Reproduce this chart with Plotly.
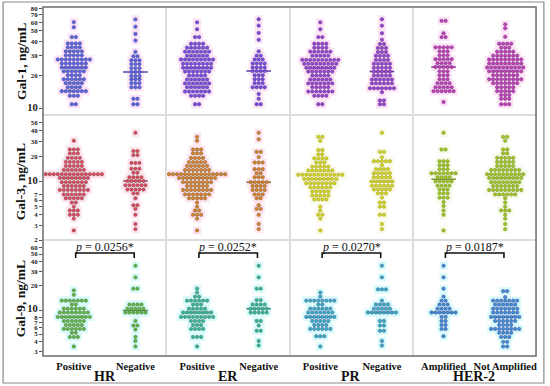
import numpy as np
import plotly.graph_objects as go
from plotly.subplots import make_subplots

# ---------------- data (levels in ng/mL and number of patients at each level) ----------------
GROUPS = ["HR", "ER", "PR", "HER-2"]
CATS = [["Positive", "Negative"], ["Positive", "Negative"], ["Positive", "Negative"], ["Amplified", "Not Amplified"]]
MARKERS = ["Gal-1, ng/mL", "Gal-3, ng/mL", "Gal-9, ng/mL"]
P_VALUES = ["0.0256", "0.0252", "0.0270", "0.0187"]

# Gal-1
G1_HR_POS_V = [60, 54, 44, 38.6, 35.6, 32.8, 30.2, 27.7, 25.5, 23.5, 21.7, 20, 18.4, 17, 15.6, 14.4, 13.1, 11]
G1_HR_POS_N = [1, 1, 2, 4, 4, 5, 5, 9, 7, 7, 6, 4, 6, 5, 4, 7, 3, 2]
G1_HR_NEG_V = [63.5, 54.6, 47, 41, 32.4, 29.6, 27.3, 25.2, 23.2, 21.4, 19.7, 18.4, 17, 15.6, 12.3, 11]
G1_HR_NEG_N = [1, 1, 1, 1, 1, 2, 3, 3, 3, 3, 3, 3, 3, 3, 2, 2]
G1_ER_POS_V = [59.7, 51.8, 44, 38.4, 35.4, 32.6, 30, 27.7, 25.4, 23.4, 21.6, 19.9, 18.3, 16.9, 15.6, 14.3, 13.1, 11]
G1_ER_POS_N = [1, 1, 2, 4, 6, 7, 6, 9, 8, 8, 7, 5, 6, 7, 6, 7, 4, 2]
G1_ER_NEG_V = [63.7, 55.8, 48, 41.7, 32.8, 30, 27.7, 25.5, 23.5, 21.8, 20, 18.4, 17, 15.6, 13.6, 12.3, 11]
G1_ER_NEG_N = [1, 1, 1, 1, 1, 2, 3, 4, 4, 4, 3, 3, 3, 4, 1, 1, 2]
G1_PR_POS_V = [59.7, 51.8, 44, 38.4, 35.4, 32.6, 30, 27.5, 25.4, 23.4, 21.6, 19.9, 18.3, 16.9, 15.6, 14.3, 13.1, 11]
G1_PR_POS_N = [1, 1, 2, 4, 4, 6, 5, 10, 9, 8, 7, 5, 6, 7, 5, 7, 4, 2]
G1_PR_NEG_V = [63.7, 55.8, 47.7, 41.7, 38.2, 35.2, 32.4, 29.9, 27.5, 25.4, 23.4, 21.6, 19.9, 18.3, 16.9, 15.3, 14.1, 11.9, 11]
G1_PR_NEG_N = [1, 1, 1, 1, 2, 3, 3, 4, 4, 5, 5, 5, 5, 6, 6, 7, 1, 2, 2]
G1_H2_AMP_V = [61.6, 47.7, 44, 35.6, 32.8, 30.2, 27.9, 25.7, 23.7, 21.7, 20, 18.4, 17, 15.6, 14.4, 11.5]
G1_H2_AMP_N = [2, 1, 2, 5, 3, 3, 5, 4, 5, 3, 3, 3, 4, 5, 6, 1]
G1_H2_NA_V = [57.3, 52.8, 44.3, 38.4, 35.4, 32.6, 30, 27.7, 25.5, 23.5, 21.7, 20, 18.4, 17, 15.6, 14.4, 13.3, 12.3, 11]
G1_H2_NA_N = [1, 1, 1, 4, 3, 5, 7, 9, 9, 10, 9, 7, 9, 7, 5, 5, 3, 3, 3]

# Gal-3
G3_HR_POS_V = [30.6, 24.1, 21.6, 19.1, 17.1, 15.3, 13.7, 12.2, 11, 9.8, 8.8, 7.9, 7.0, 6.3, 5.6, 5.0, 4.5, 4.0, 3.6, 2.6]
G3_HR_POS_N = [1, 3, 3, 4, 5, 5, 6, 15, 8, 7, 6, 8, 6, 5, 2, 1, 3, 3, 1, 1]
G3_HR_NEG_V = [38, 23, 20.6, 16.6, 14.2, 12.7, 11.2, 10.1, 9.0, 8.0, 7.2, 6.3, 5.2, 4.7, 4.0, 3.1, 2.7]
G3_HR_NEG_N = [1, 2, 2, 3, 3, 2, 4, 5, 6, 5, 2, 1, 2, 1, 1, 1, 1]
G3_ER_POS_V = [34, 30.6, 24, 21.6, 19, 17, 15.3, 13.7, 12.2, 11, 9.8, 8.8, 7.9, 7.0, 6.3, 5.6, 5.0, 4.5, 4.0, 3.6, 2.6]
G3_ER_POS_N = [1, 1, 3, 3, 4, 5, 6, 7, 15, 10, 8, 6, 8, 7, 5, 1, 1, 2, 3, 1, 1]
G3_ER_NEG_V = [38, 31.8, 22.5, 19.5, 16.8, 14, 12.5, 11.2, 9.8, 8.8, 7.9, 7.0, 6.3, 5.2, 4.7, 4.0, 3.1, 2.7]
G3_ER_NEG_N = [1, 1, 2, 1, 3, 3, 2, 3, 5, 4, 4, 3, 2, 1, 2, 1, 1, 1]
G3_PR_POS_V = [34, 30.6, 23.6, 21, 18.8, 16.8, 15, 13.5, 12, 10.7, 9.5, 8.5, 7.6, 6.8, 6.1, 5.0, 4.5, 4.0, 3.6, 2.6]
G3_PR_POS_N = [2, 1, 2, 2, 4, 3, 5, 7, 12, 9, 8, 6, 5, 5, 4, 1, 1, 2, 1, 1]
G3_PR_NEG_V = [38, 22.5, 19.5, 17.4, 15.6, 14, 12.5, 11.2, 10, 8.9, 8.0, 7.2, 6.4, 5.6, 5.0, 4.0, 3.1, 2.7]
G3_PR_NEG_N = [1, 2, 1, 5, 1, 4, 5, 5, 6, 6, 5, 3, 1, 2, 2, 2, 1, 1]
G3_H2_AMP_V = [38, 24, 17.4, 15.6, 14, 12.5, 11.2, 10, 8.9, 8.0, 7.2, 6.4, 5.7, 5.1, 4.5, 4.0, 2.6]
G3_H2_AMP_N = [1, 2, 3, 3, 3, 7, 4, 5, 4, 3, 3, 3, 1, 1, 1, 1, 1]
G3_H2_NA_V = [34, 30.6, 24, 21.6, 19.1, 17.1, 15.3, 13.7, 12.2, 11, 9.8, 8.8, 7.9, 7.0, 6.3, 5.6, 5.0, 4.5, 4.0, 3.6, 3.1, 2.7]
G3_H2_NA_N = [2, 1, 2, 2, 5, 5, 5, 8, 10, 9, 8, 7, 9, 6, 1, 1, 1, 3, 1, 1, 1, 1]

# Gal-9
G9_HR_POS_V = [17.6, 15.5, 13.1, 11.7, 10.4, 9.3, 8.2, 7.3, 6.5, 5.8, 5.2, 4.6, 3.5]
G9_HR_POS_N = [1, 1, 7, 2, 6, 8, 9, 6, 5, 6, 2, 3, 1]
G9_HR_NEG_V = [35.8, 25.6, 18.5, 11.7, 10.4, 9.3, 7.3, 6.4, 5.7, 4.6, 4.1, 3.5]
G9_HR_NEG_N = [1, 1, 2, 4, 5, 6, 1, 2, 1, 1, 1, 1]
G9_ER_POS_V = [18.5, 16.5, 14.7, 13.1, 11.7, 10.4, 9.3, 8.2, 7.3, 6.5, 5.8, 4.6, 3.5]
G9_ER_POS_N = [1, 1, 2, 6, 3, 5, 8, 9, 4, 3, 4, 3, 1]
G9_ER_NEG_V = [35.8, 25.6, 18.5, 13.3, 11.7, 10.4, 9.3, 7.3, 6.4, 5.5, 4.1, 3.6]
G9_ER_NEG_N = [1, 1, 2, 2, 4, 5, 5, 2, 1, 2, 1, 1]
G9_PR_POS_V = [16.5, 14.7, 13.1, 11.7, 10.4, 9.3, 8.2, 7.3, 6.5, 5.8, 4.7, 3.5]
G9_PR_POS_N = [1, 1, 8, 2, 6, 7, 8, 5, 4, 6, 3, 1]
G9_PR_NEG_V = [35.8, 25.6, 18.1, 13.1, 11.7, 10.4, 9.3, 7.3, 6.4, 5.5, 4.1, 3.6]
G9_PR_NEG_N = [1, 1, 3, 1, 4, 5, 8, 2, 2, 2, 1, 1]
G9_H2_AMP_V = [35.8, 25.6, 18.5, 14.7, 13.1, 11.7, 10.4, 9.3, 8.2, 7.3, 6.5, 5.8, 4.7]
G9_H2_AMP_N = [1, 1, 1, 1, 2, 3, 4, 7, 2, 2, 2, 2, 1]
G9_H2_NA_V = [17.2, 14.5, 13.1, 11.7, 10.4, 9.3, 8.2, 7.3, 6.5, 5.8, 5.2, 4.6, 4.0, 3.5]
G9_H2_NA_N = [2, 1, 7, 6, 7, 7, 8, 6, 4, 8, 4, 3, 2, 2]

SWARMS = [
    [[(G1_HR_POS_V, G1_HR_POS_N), (G1_HR_NEG_V, G1_HR_NEG_N)],
     [(G1_ER_POS_V, G1_ER_POS_N), (G1_ER_NEG_V, G1_ER_NEG_N)],
     [(G1_PR_POS_V, G1_PR_POS_N), (G1_PR_NEG_V, G1_PR_NEG_N)],
     [(G1_H2_AMP_V, G1_H2_AMP_N), (G1_H2_NA_V, G1_H2_NA_N)]],
    [[(G3_HR_POS_V, G3_HR_POS_N), (G3_HR_NEG_V, G3_HR_NEG_N)],
     [(G3_ER_POS_V, G3_ER_POS_N), (G3_ER_NEG_V, G3_ER_NEG_N)],
     [(G3_PR_POS_V, G3_PR_POS_N), (G3_PR_NEG_V, G3_PR_NEG_N)],
     [(G3_H2_AMP_V, G3_H2_AMP_N), (G3_H2_NA_V, G3_H2_NA_N)]],
    [[(G9_HR_POS_V, G9_HR_POS_N), (G9_HR_NEG_V, G9_HR_NEG_N)],
     [(G9_ER_POS_V, G9_ER_POS_N), (G9_ER_NEG_V, G9_ER_NEG_N)],
     [(G9_PR_POS_V, G9_PR_POS_N), (G9_PR_NEG_V, G9_PR_NEG_N)],
     [(G9_H2_AMP_V, G9_H2_AMP_N), (G9_H2_NA_V, G9_H2_NA_N)]],
]

Y_RANGES = [(8.8, 82), (2.0, 62), (2.66, 75)]
Y_TICKS = [[10, 20, 30, 40, 50, 60, 70, 80],
           [2, 3, 4, 5, 6, 7, 10, 20, 30, 40, 50],
           [3, 4, 5, 6, 7, 8, 10, 20, 30, 40, 50, 60]]

# ---------------- styles ----------------
FILL = [["#5a68dc", "#7650d8", "#9a44cc", "#c040b4"],
        ["#e2445e", "#d8822a", "#d2d224", "#a2c224"],
        ["#5cb446", "#34b48e", "#34b0bc", "#3c8ed2"]]
EDGE = [["#4848a8", "#5a3ca8", "#6c3a9c", "#843a8e"],
        ["#8a5a5a", "#8a6a40", "#a8a834", "#7a9a34"],
        ["#5a8a4a", "#4a8a7a", "#4a6aa8", "#4a5aa8"]]
HALO = [["#fce4f6", "#fce4f6", "#fce4f6", "#fce4f6"],
        ["#fde4ee", "#fde4ee", "#fafae6", "#f6fae6"],
        ["#d8fafa", "#d8fafa", "#d8fafa", "#d8fafa"]]
SERIF = "Liberation Serif, Times New Roman, serif"
DX = 0.065

fig = make_subplots(rows=3, cols=4, shared_yaxes=True, horizontal_spacing=0,
                    vertical_spacing=0, row_heights=[108, 125, 116])

for r in range(3):
    for c in range(4):
        for k in range(2):
            levels, counts = SWARMS[r][c][k]
            xs, ys = [], []
            for v, n in zip(levels, counts):
                for i in range(n):
                    xs.append(k + (i - (n - 1) / 2) * DX)
                    ys.append(v)
            fig.add_trace(go.Scatter(x=xs, y=ys, mode="markers", hoverinfo="skip",
                                     marker=dict(symbol="square", size=8, color=HALO[r][c],
                                                 line=dict(width=0))),
                          row=r + 1, col=c + 1)
            med = float(np.median(np.repeat(levels, counts)))
            fig.add_trace(go.Scatter(x=[k - 0.2, k + 0.2], y=[med, med], mode="lines",
                                     hoverinfo="skip", line=dict(color=EDGE[r][c], width=1.5)),
                          row=r + 1, col=c + 1)
            fig.add_trace(go.Scatter(x=xs, y=ys, mode="markers",
                                     marker=dict(symbol="circle", size=3.4, color=FILL[r][c],
                                                 line=dict(width=0.6, color=EDGE[r][c]))),
                          row=r + 1, col=c + 1)

# axes
for r in range(3):
    lo, hi = Y_RANGES[r]
    ticktext = []
    for t in Y_TICKS[r]:
        if t == 10:
            ticktext.append("<b><span style='font-size:10.5px'>10</span></b>")
        else:
            ticktext.append(f"<b>{t}</b>")
    for c in range(4):
        fig.update_yaxes(type="log", range=[np.log10(lo), np.log10(hi)],
                         tickvals=Y_TICKS[r], ticktext=ticktext, automargin=False,
                         ticks="outside" if c == 0 else "", ticklen=3, tickcolor="#555",
                         tickfont=dict(family=SERIF, size=6.8, color="#222"),
                         showgrid=False, zeroline=False, showline=True, mirror=True,
                         linecolor="#dcdcdc", linewidth=1, row=r + 1, col=c + 1)
        fig.update_xaxes(range=[-0.5, 1.5], tickvals=[0, 1], automargin=False,
                         ticktext=[f"<b>{t}</b>" for t in CATS[c]],
                         showticklabels=(r == 2), ticks="",
                         tickfont=dict(family=SERIF, size=10.5, color="#111"),
                         showgrid=False, zeroline=False, showline=True, mirror=True,
                         linecolor="#dcdcdc", linewidth=1, row=r + 1, col=c + 1)

# p-value brackets in the Gal-9 row
for c in range(4):
    ax = 9 + c
    fig.add_trace(go.Scatter(x=[0.03, 0.03, 0.98, 0.98], y=[44.7, 51.6, 51.6, 44.7],
                             mode="lines", hoverinfo="skip",
                             line=dict(color="#111", width=1.6)),
                  row=3, col=c + 1)
    fig.add_annotation(x=0.5, y=np.log10(61), xref=f"x{ax}", yref=f"y{ax}",
                       xanchor="center", yanchor="middle",
                       text=f"<i>p</i> = {P_VALUES[c]}*", showarrow=False,
                       font=dict(family=SERIF, size=12, color="#111"))

# group labels
for c in range(4):
    fig.add_annotation(x=(c + 0.5) / 4, y=-0.06, xref="paper", yref="paper",
                       xanchor="center", yanchor="middle",
                       text=f"<b>{GROUPS[c]}</b>", showarrow=False,
                       font=dict(family=SERIF, size=14, color="#111"))

# row titles
for r, yc in enumerate([0.845, 0.50, 0.165]):
    fig.add_annotation(x=-0.045, y=yc, xref="paper", yref="paper", textangle=-90,
                       xanchor="center", yanchor="middle",
                       text=f"<b>{MARKERS[r]}</b>", showarrow=False,
                       font=dict(family=SERIF, size=13.5, color="#111"))

fig.add_shape(type="rect", xref="paper", yref="paper", x0=0, y0=0, x1=1, y1=1,
              line=dict(color="#707070", width=1.5))
fig.add_shape(type="rect", xref="paper", yref="paper", x0=-0.081, y0=-0.0774,
              x1=1.016, y1=1.0143, line=dict(color="#8a8a8a", width=1.2))

fig.update_layout(width=550, height=386, margin=dict(l=43, r=14, t=7, b=30, autoexpand=False),
                  showlegend=False, paper_bgcolor="white", plot_bgcolor="white")

fig.write_html("out.html", config={"displayModeBar": False},
               post_script="document.body.style.margin='0px';document.body.style.overflow='hidden';")
